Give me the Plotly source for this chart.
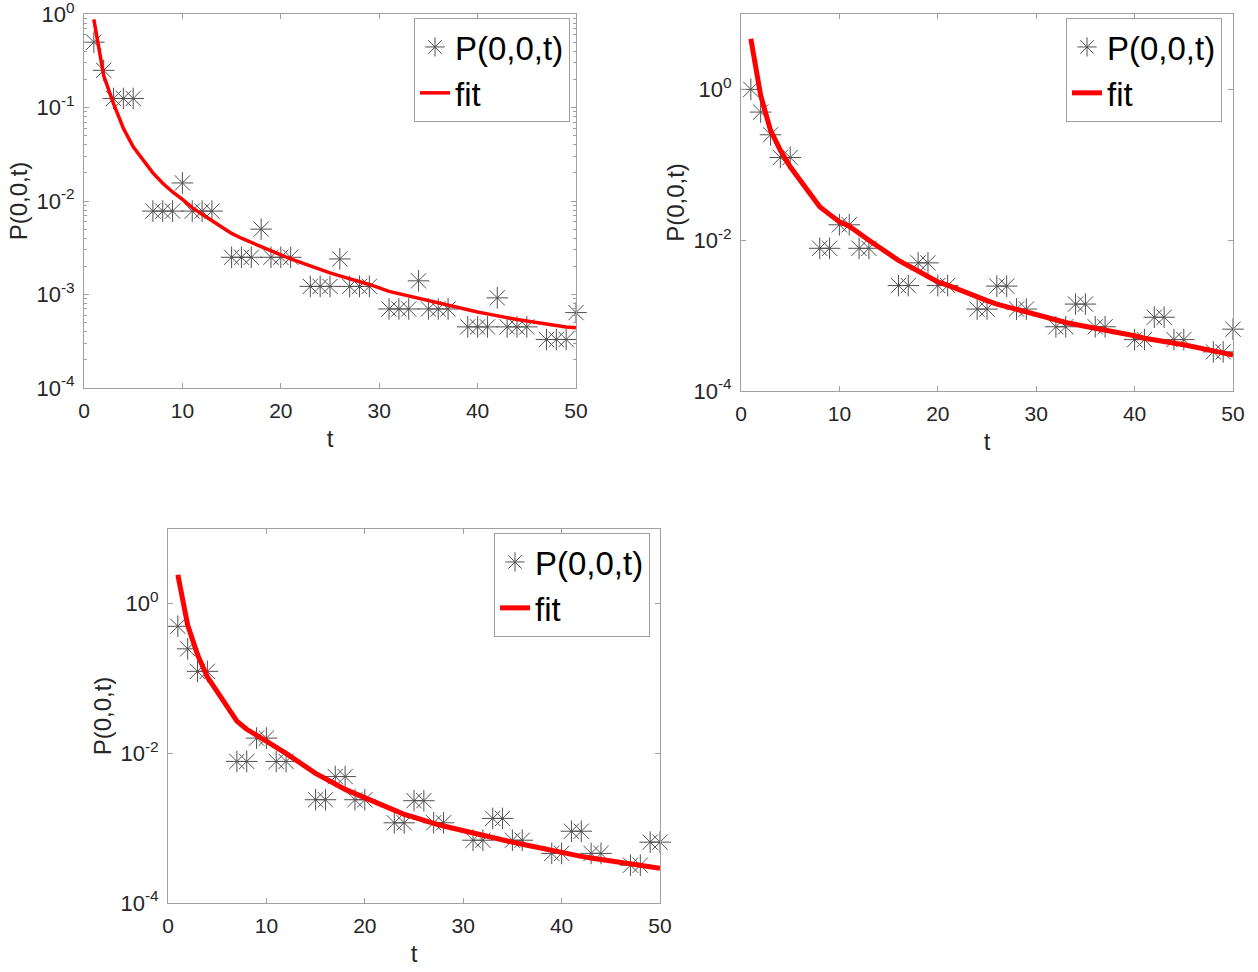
import plotly.graph_objects as go

# ---------------- data ----------------
t_a = [1, 2, 3, 4, 5, 7, 8, 9, 10, 11, 12, 13, 15, 16, 17, 18, 19, 20, 21, 23, 24, 25, 26, 27, 28, 29,
       31, 32, 33, 34, 35, 36, 37, 39, 40, 41, 42, 43, 44, 45, 47, 48, 49, 50]
p_a = [0.5, 0.25, 0.125, 0.125, 0.125, 0.0078, 0.0078, 0.0078, 0.0156, 0.0078, 0.0078, 0.0078,
       0.0025, 0.0025, 0.0025, 0.005, 0.0025, 0.0025, 0.0025, 0.00122, 0.00122, 0.00122, 0.0024,
       0.00122, 0.00122, 0.00122, 0.0007, 0.0007, 0.0007, 0.0014, 0.0007, 0.0007, 0.0007,
       0.00045, 0.00045, 0.00045, 0.00092, 0.00045, 0.00045, 0.00045, 0.00033, 0.00033, 0.00033, 0.00064]
fit_a = [0.877, 0.22, 0.11, 0.06, 0.038, 0.020, 0.0155, 0.0125, 0.0104, 0.0085, 0.0072, 0.0062,
         0.0045, 0.004, 0.0036, 0.0032, 0.0029, 0.00265, 0.0024, 0.0020, 0.00185, 0.0017, 0.00158,
         0.00147, 0.00137, 0.00128, 0.00108, 0.00102, 0.00096, 0.0009, 0.00085, 0.0008, 0.00076,
         0.00068, 0.00065, 0.00062, 0.00059, 0.00056, 0.00054, 0.00052, 0.00048, 0.00046, 0.00045, 0.00044]

t_b = [1, 2, 3, 4, 5, 8, 9, 10, 11, 12, 13, 16, 17, 18, 19, 20, 21, 24, 25, 26, 27, 28, 29,
       32, 33, 34, 35, 36, 37, 40, 41, 42, 43, 44, 45, 48, 49, 50]
p_b = [1.0, 0.5, 0.25, 0.125, 0.125, 0.0078, 0.0078, 0.016, 0.016, 0.0078, 0.0078,
       0.0025, 0.0025, 0.005, 0.005, 0.0025, 0.0025, 0.00122, 0.00122, 0.00246, 0.00246, 0.00122, 0.00122,
       0.00071, 0.00071, 0.00142, 0.00142, 0.00071, 0.00071, 0.00048, 0.00048, 0.00095, 0.00095,
       0.00048, 0.00048, 0.00033, 0.00033, 0.00066]
fit_b = [4.7, 0.83, 0.286, 0.156, 0.094, 0.0277, 0.022, 0.0175, 0.0153, 0.0123, 0.0100,
         0.0054, 0.0045, 0.0039, 0.0033, 0.0028, 0.00254, 0.00173, 0.00158, 0.00142, 0.00131, 0.00118, 0.0011,
         0.00087, 0.00081, 0.00076, 0.00072, 0.00068, 0.00064, 0.00054, 0.0005, 0.00048, 0.00045,
         0.00043, 0.00041, 0.00034, 0.00032, 0.0003]

t_c = [1, 2, 3, 4, 7, 8, 9, 10, 11, 12, 15, 16, 17, 18, 19, 20, 23, 24, 25, 26, 27, 28,
       31, 32, 33, 34, 35, 36, 39, 40, 41, 42, 43, 44, 47, 48, 49, 50]
p_c = [0.5, 0.25, 0.125, 0.125, 0.0078, 0.0078, 0.016, 0.016, 0.0078, 0.0078,
       0.0024, 0.0024, 0.0049, 0.0049, 0.0024, 0.0024, 0.00118, 0.00118, 0.00233, 0.00233, 0.00118, 0.00118,
       0.00069, 0.00069, 0.00135, 0.00135, 0.00069, 0.00069, 0.00046, 0.00046, 0.00091, 0.00091,
       0.00046, 0.00046, 0.00032, 0.00032, 0.00065, 0.00065]
fit_c = [2.44, 0.52, 0.21, 0.105, 0.027, 0.021, 0.0175, 0.0145, 0.0122, 0.0100,
         0.0054, 0.0045, 0.0039, 0.0033, 0.0029, 0.0025, 0.00175, 0.00153, 0.0014, 0.00126, 0.00116, 0.00107,
         0.00085, 0.00079, 0.00074, 0.00069, 0.00065, 0.00061, 0.0005, 0.00047, 0.00045, 0.00042,
         0.0004, 0.00038, 0.00033, 0.00032, 0.0003, 0.00029]

x_ticks = [0, 10, 20, 30, 40, 50]
y_ticks_a = [1e-4, 1e-3, 1e-2, 1e-1, 1e0]
y_text_a = ["10<sup>-4</sup>", "10<sup>-3</sup>", "10<sup>-2</sup>", "10<sup>-1</sup>", "10<sup>0</sup>"]
y_ticks_bc = [1e-4, 1e-2, 1e0]
y_text_bc = ["10<sup>-4</sup>", "10<sup>-2</sup>", "10<sup>0</sup>"]
series_name = "P(0,0,t)"
fit_name = "fit"

# ---------------- figure ----------------
W, H = 1258, 972
OFF = 0  # page body margin is set to 0 below
FONT = "Arial, 'Liberation Sans', sans-serif"
AX = "#a0a0a0"
TXT = "#262626"


def px(v):
    return (v - OFF) / W


def py(v):
    return (H - (v - OFF)) / H


fig = go.Figure()

panels = [
    ("x", "y", "legend", t_a, p_a, fit_a, 3.5),
    ("x2", "y2", "legend2", t_b, p_b, fit_b, 5),
    ("x3", "y3", "legend3", t_c, p_c, fit_c, 5),
]
for xa, ya, lg, t, p, f, lw in panels:
    fig.add_trace(go.Scatter(
        x=t, y=p, mode="markers", name=series_name, xaxis=xa, yaxis=ya, legend=lg,
        cliponaxis=False,
        marker=dict(symbol="asterisk-open", size=18, color="#505050",
                    line=dict(color="#505050", width=1)),
    ))
    fig.add_trace(go.Scatter(
        x=t, y=f, mode="lines", name=fit_name, xaxis=xa, yaxis=ya, legend=lg,
        line=dict(color="#ff0000", width=lw),
    ))


def xax(domain, anchor):
    return dict(domain=domain, anchor=anchor, range=[0, 50], tickvals=x_ticks, automargin=False,
                ticks="inside", ticklen=5, tickcolor=AX, showline=True, linecolor=AX,
                linewidth=1, mirror="ticks", showgrid=False, zeroline=False,
                ticklabeloverflow="allow",
                tickfont=dict(size=21, color=TXT, family=FONT), ticklabelstandoff=4,
                title=dict(text="t", font=dict(size=24, color=TXT, family=FONT), standoff=8))


def yax(domain, anchor, rng, vals, text, minor=None):
    d = dict(domain=domain, anchor=anchor, type="log", range=rng, tickvals=vals, ticktext=text,
             automargin=False, ticklabeloverflow="allow",
             ticks="inside", ticklen=5, tickcolor=AX, showline=True, linecolor=AX,
             linewidth=1, mirror="ticks", showgrid=False, zeroline=False,
             tickfont=dict(size=22, color=TXT, family=FONT), ticklabelstandoff=4,
             title=dict(text="P(0,0,t)", font=dict(size=24, color=TXT, family=FONT), standoff=2))
    if minor is not None:
        d["minor"] = dict(tickvals=minor, ticks="inside", ticklen=3, tickcolor=AX, showgrid=False)
    return d


minor_a = [m * 10 ** e for e in range(-4, 0) for m in range(2, 10)]

fig.update_layout(
    width=W, height=H,
    margin=dict(l=0, r=0, t=0, b=0, autoexpand=False),
    paper_bgcolor="white", plot_bgcolor="white",
    font=dict(family=FONT, color=TXT),
    xaxis=xax([px(84), px(576)], "y"),
    yaxis=yax([py(388), py(14)], "x", [-4.0005, 0.0005], y_ticks_a, y_text_a, minor_a),
    xaxis2=xax([px(741), px(1233)], "y2"),
    yaxis2=yax([py(391), py(14)], "x2", [-4.0005, 1], y_ticks_bc, y_text_bc),
    xaxis3=xax([px(168), px(660)], "y3"),
    yaxis3=yax([py(903), py(529)], "x3", [-4.0005, 1], y_ticks_bc, y_text_bc),
)

leg_common = dict(bgcolor="white", bordercolor=AX, borderwidth=1,
                  font=dict(size=33, color="black", family=FONT),
                  xanchor="right", yanchor="top", tracegroupgap=0)
fig.update_layout(
    legend=dict(x=px(570), y=py(18), **leg_common),
    legend2=dict(x=px(1222), y=py(18), **leg_common),
    legend3=dict(x=px(650), y=py(533), **leg_common),
    showlegend=True,
)

fig.write_html("out.html", config={"displayModeBar": False},
               post_script="document.body.style.margin='0px';")
